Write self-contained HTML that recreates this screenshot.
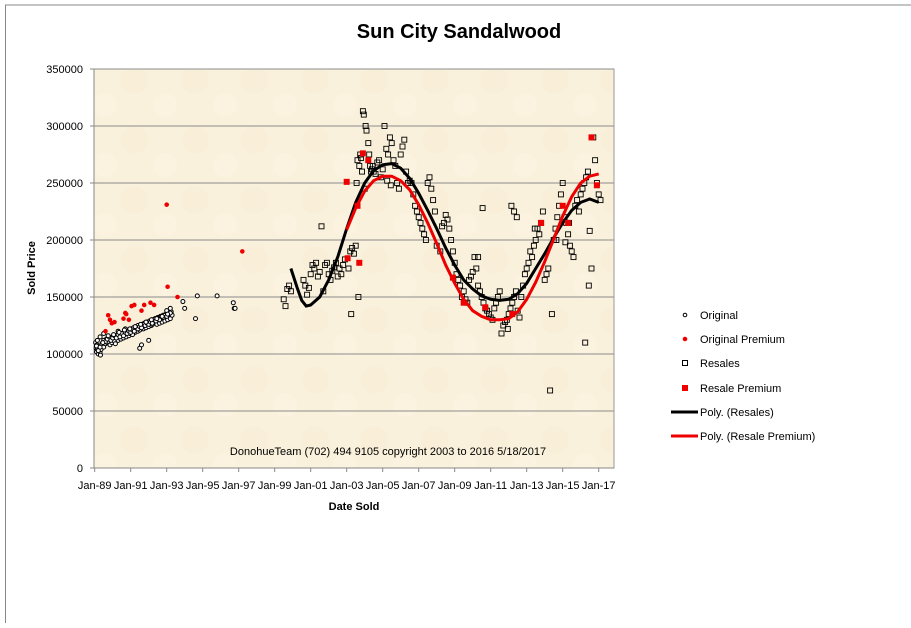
<!DOCTYPE html>
<html><head><meta charset="utf-8">
<style>
html,body{margin:0;padding:0;background:#fff;}
body{width:911px;height:623px;overflow:hidden;position:relative;font-family:"Liberation Sans","DejaVu Sans",sans-serif;}
svg text{font-family:"Liberation Sans","DejaVu Sans",sans-serif;}
</style></head>
<body>
<svg id="chart" width="911" height="623" xmlns="http://www.w3.org/2000/svg">
<defs>
<pattern id="parch" width="60" height="60" patternUnits="userSpaceOnUse">
<rect width="60" height="60" fill="#faf1dc"/>
<circle cx="15" cy="20" r="14" fill="#f8eed5" opacity="0.5"/>
<circle cx="45" cy="45" r="12" fill="#fbf4e2" opacity="0.5"/>
</pattern>
</defs>
<rect x="0" y="0" width="911" height="623" fill="#fff"/>
<line x1="5" y1="5" x2="911" y2="5" stroke="#888" stroke-width="1"/>
<line x1="5.5" y1="5" x2="5.5" y2="623" stroke="#888" stroke-width="1"/>
<text x="459" y="38" text-anchor="middle" font-size="20" font-weight="bold">Sun City Sandalwood</text>
<rect x="94" y="69" width="520" height="399" fill="url(#parch)" stroke="#999"/>
<g id="grid"></g><g id="axes"></g><g id="marks"></g>
<text x="388" y="455" text-anchor="middle" font-size="11">DonohueTeam (702) 494 9105 copyright 2003 to 2016  5/18/2017</text>
<text x="354" y="510" text-anchor="middle" font-size="11" font-weight="bold">Date Sold</text>
<text transform="translate(35,268) rotate(-90)" text-anchor="middle" font-size="11" font-weight="bold">Sold Price</text>
<g font-size="11">
<g><circle cx="685" cy="315" r="1.8" fill="#fff" stroke="#000"/><text x="700" y="319">Original</text></g>
<g><circle cx="685" cy="339" r="1.8" fill="#e00" stroke="#e00"/><text x="700" y="343">Original Premium</text></g>
<g><rect x="682.5" y="360.5" width="5" height="5" fill="#fff" stroke="#000"/><text x="700" y="367">Resales</text></g>
<g><rect x="682" y="385" width="6" height="6" fill="#e00"/><text x="700" y="392">Resale Premium</text></g>
<g><line x1="671" y1="412" x2="698" y2="412" stroke="#000" stroke-width="3"/><text x="700" y="416">Poly. (Resales)</text></g>
<g><line x1="671" y1="436" x2="698" y2="436" stroke="#e00" stroke-width="3"/><text x="700" y="440">Poly. (Resale Premium)</text></g>
</g>
</svg>
<script>
const yTicks=[0,50000,100000,150000,200000,250000,300000,350000];
const xTickLabels=["Jan-89","Jan-91","Jan-93","Jan-95","Jan-97","Jan-99","Jan-01","Jan-03","Jan-05","Jan-07","Jan-09","Jan-11","Jan-13","Jan-15","Jan-17"];
const xTickYears=[1989,1991,1993,1995,1997,1999,2001,2003,2005,2007,2009,2011,2013,2015,2017];
// Original sales (year, price in thousands)
const originalYears=[1989.05,1989.08,1989.1,1989.12,1989.15,1989.2,1989.22,1989.25,1989.3,1989.32,1989.35,1989.4,1989.45,1989.5,1989.55,1989.6,1989.65,1989.7,1989.75,1989.8,1989.85,1989.9,1989.95,1990.0,1990.05,1990.1,1990.15,1990.2,1990.25,1990.3,1990.35,1990.4,1990.45,1990.5,1990.55,1990.6,1990.65,1990.7,1990.75,1990.8,1990.85,1990.9,1990.95,1991.0,1991.05,1991.1,1991.15,1991.2,1991.25,1991.3,1991.35,1991.4,1991.45,1991.5,1991.55,1991.6,1991.65,1991.7,1991.75,1991.8,1991.85,1991.9,1991.95,1992.0,1992.05,1992.1,1992.15,1992.2,1992.25,1992.3,1992.35,1992.4,1992.45,1992.5,1992.55,1992.6,1992.65,1992.7,1992.75,1992.8,1992.85,1992.9,1992.95,1993.0,1993.05,1993.1,1993.15,1993.2,1993.25,1993.3,1989.3,1989.5,1989.9,1990.3,1990.7,1991.1,1991.4,1991.8,1992.2,1992.6,1993.0,1993.2,1991.5,1991.6,1992.0,1993.9,1994.0,1994.6,1994.7,1995.8,1996.7,1996.75,1996.8,
1989.1,1989.2,1989.3,1989.4,1989.5,1989.6,1989.7,1989.8,1989.9,1990.0,1990.1,1990.2,1990.3,1990.4,1990.5,1990.6,1990.7,1990.8,1990.9,1991.0,1991.1,1991.2,1991.3,1991.4,1991.5,1991.6,1991.7,1991.8,1991.9,1992.0,1992.1,1992.2,1992.3,1992.4,1992.5,1992.6,1992.7,1992.8,1992.9,1993.0,1993.1,1993.2,1989.15,1989.45,1989.75,1990.05,1990.35,1990.65,1990.95,1991.25,1991.55,1991.85,1992.15,1992.45,1992.75,1993.05];
const originalPrices=[110,105,102,108,104,100,106,103,101,99,104,108,110,106,112,109,113,110,111,114,108,112,110,115,113,111,109,116,114,112,117,115,113,118,116,114,120,117,115,119,121,116,118,122,120,118,123,121,119,124,122,120,125,121,123,126,124,122,127,125,123,128,126,124,129,127,125,130,127,129,131,128,126,132,129,127,133,130,128,134,131,129,135,132,130,136,133,131,137,134,115,118,114,120,122,117,125,127,126,130,138,140,105,108,112,146,140,131,151,151,145,140,140,
107,103,106,109,112,111,113,115,112,114,116,114,117,115,118,116,119,118,120,119,121,120,123,122,124,123,126,125,127,126,128,127,130,129,131,130,133,132,134,133,135,136,112,110,116,117,119,121,122,124,126,128,130,131,133,135];
const origPremYears=[1989.6,1989.75,1989.85,1989.95,1990.1,1990.6,1990.7,1990.75,1990.9,1991.05,1991.2,1991.6,1991.75,1992.1,1992.3,1993.0,1993.05,1993.6,1997.2];
const origPremPrices=[120,134,130,127,128,131,136,135,130,142,143,138,143,145,143,231,159,150,190];
// Resales
const resaleYears=[1999.5,1999.6,1999.7,1999.8,1999.9,2000.6,2000.7,2000.8,2000.9,2001.0,2001.1,2001.2,2001.3,2001.4,2001.5,2001.6,2001.7,2001.8,2001.9,2002.0,2002.1,2002.2,2002.3,2002.4,2002.5,2002.6,2002.7,2002.8,2002.9,2003.1,2003.2,2003.3,2003.4,2003.5,2003.55,2003.6,2003.7,2003.75,2003.8,2003.85,2003.9,2003.95,2004.0,2004.05,2004.1,2004.2,2004.25,2004.3,2004.35,2004.4,2004.45,2004.5,2004.6,2004.7,2004.8,2004.9,2005.0,2005.1,2005.2,2005.3,2005.4,2005.5,2005.6,2005.7,2005.8,2005.9,2006.0,2006.1,2006.2,2006.3,2006.4,2006.5,2006.6,2006.7,2006.8,2006.9,2007.0,2007.1,2007.2,2007.3,2007.4,2007.5,2007.6,2007.7,2007.8,2007.9,2008.0,2008.2,2008.4,2008.6,2008.7,2008.8,2008.9,2009.0,2009.1,2009.2,2009.3,2009.4,2009.5,2009.6,2009.7,2009.8,2009.9,2010.0,2010.1,2010.2,2010.3,2010.4,2010.5,2010.6,2010.7,2010.8,2010.9,2011.0,2011.1,2011.2,2011.3,2011.4,2011.5,2011.6,2011.7,2011.8,2011.9,2012.0,2012.1,2012.2,2012.3,2012.4,2012.5,2012.6,2012.7,2012.8,2012.9,2013.0,2013.1,2013.2,2013.3,2013.4,2013.5,2013.6,2013.7,2013.8,2013.9,2014.0,2014.1,2014.2,2014.3,2014.4,2014.5,2014.6,2014.7,2014.8,2014.9,2015.0,2015.1,2015.2,2015.3,2015.4,2015.5,2015.6,2015.7,2015.8,2015.9,2016.0,2016.1,2016.2,2016.3,2016.4,2016.5,2016.6,2016.7,2016.8,2016.9,2017.0,2017.1,2012.15,2012.3,2012.45,2013.45,2014.65,2015.15,2015.35,2016.25,2016.45,2011.95,2010.3,2010.55,2008.3,2008.5,2005.45,2005.25,2003.65,2003.25];
const resalePrices=[148,142,157,160,155,165,160,152,158,170,178,175,180,168,172,212,155,178,180,170,165,173,176,180,168,175,170,178,183,175,190,193,188,195,250,270,265,275,272,260,313,310,245,300,296,285,275,265,260,262,265,260,258,268,270,255,262,300,280,275,290,285,270,265,250,245,275,282,288,260,250,252,250,240,230,225,220,215,210,205,200,250,255,245,235,225,195,190,215,218,210,200,190,180,170,165,160,150,155,148,145,165,168,172,185,175,160,155,150,145,140,138,135,132,130,140,145,150,155,118,125,128,130,135,140,145,150,155,138,132,150,160,170,175,180,190,185,195,200,210,205,215,225,165,170,175,68,135,200,210,220,230,240,250,220,215,205,195,190,185,230,235,225,240,245,250,255,260,208,175,290,270,250,240,235,230,225,220,210,200,198,215,110,160,122,185,228,212,222,248,252,150,135,142,225,210,271,262,180,172];
const resPremYears=[2003.0,2003.05,2003.7,2003.6,2003.9,2004.2,2008.9,2009.5,2010.7,2012.2,2013.8,2015.0,2015.3,2016.6,2016.9];
const resPremPrices=[251,184,180,230,276,270,167,145,141,135,215,230,215,290,248];
// Polynomial trend lines (sampled values, thousands)
const polyResYears=[1999.9,2000.25,2000.5,2000.75,2001,2001.5,2002,2002.5,2003,2003.5,2004,2004.5,2005,2005.5,2006,2006.5,2007,2007.5,2008,2008.5,2009,2009.5,2010,2010.5,2011,2011.5,2012,2012.5,2013,2013.5,2014,2014.5,2015,2015.5,2016,2016.5,2017];
const polyResPrices=[175,158,147,142,143,150,165,185,210,233,250,261,266,267,263,254,241,226,210,193,178,165,157,151,148,147,148,153,162,175,188,202,215,226,233,236,233];
const polyPremYears=[2003,2003.5,2004,2004.5,2005,2005.5,2006,2006.5,2007,2007.5,2008,2008.5,2009,2009.5,2010,2010.5,2011,2011.5,2012,2012.5,2013,2013.5,2014,2014.5,2015,2015.5,2016,2016.5,2017];
const polyPremPrices=[209,228,243,252,256,256,252,244,231,215,197,178,162,148,138,133,130,130,131,137,148,163,181,201,221,238,250,256,258];

const NS="http://www.w3.org/2000/svg";
const X0=94.7, PXY=18, Y0=468, YS=399/350000;
function xs(yr){return X0+(yr-1989)*PXY;}
function ys(v){return Y0-v*YS;}
function mk(tag,attrs,parent){const e=document.createElementNS(NS,tag);for(const k in attrs)e.setAttribute(k,attrs[k]);parent.appendChild(e);return e;}
const grid=document.getElementById('grid'),axes=document.getElementById('axes'),marks=document.getElementById('marks');
yTicks.forEach(v=>{
  if(v>0){const g=mk('line',{x1:94,x2:614,y1:ys(v),y2:ys(v),stroke:'#8c8c8c','stroke-width':1},grid);
  
  }
  const t=mk('text',{x:83,y:ys(v)+4,'text-anchor':'end','font-size':11},axes);t.textContent=v;
  
  
  mk('line',{x1:90,x2:94,y1:ys(v),y2:ys(v),stroke:'#888'},axes);
});
mk('line',{x1:94,x2:94,y1:69,y2:468,stroke:'#888'},axes);
mk('line',{x1:94,x2:614,y1:468,y2:468,stroke:'#888'},axes);
xTickYears.forEach((yr,i)=>{
  mk('line',{x1:xs(yr),x2:xs(yr),y1:468,y2:472,stroke:'#888'},axes);
  const t=mk('text',{x:xs(yr),y:489,'text-anchor':'middle','font-size':11},axes);t.textContent=xTickLabels[i];
  
  
});
function pathOf(xa,va){return xa.map((y,i)=>(i?'L':'M')+xs(y).toFixed(1)+','+ys(va[i]*1000).toFixed(1)).join(' ');}
originalYears.forEach((yr,i)=>{
  if(originalPrices[i]===undefined)return;
  const c=mk('circle',{cx:xs(yr),cy:ys(originalPrices[i]*1000),r:2,fill:'#fff',stroke:'#000','stroke-width':1},marks);
  
  
});
origPremYears.forEach((yr,i)=>{
  const c=mk('circle',{cx:xs(yr),cy:ys(origPremPrices[i]*1000),r:1.8,fill:'#e00',stroke:'#e00'},marks);
  
  
});
resaleYears.forEach((yr,i)=>{
  if(resalePrices[i]===undefined)return;
  const r=mk('rect',{x:xs(yr)-2.5,y:ys(resalePrices[i]*1000)-2.5,width:5,height:5,fill:'none',stroke:'#000','stroke-width':0.9},marks);
  
  
});
const p1=mk('path',{d:pathOf(polyResYears,polyResPrices),fill:'none',stroke:'#000','stroke-width':3},marks);


const p2=mk('path',{d:pathOf(polyPremYears,polyPremPrices),fill:'none',stroke:'#e00','stroke-width':3},marks);


resPremYears.forEach((yr,i)=>{
  const r=mk('rect',{x:xs(yr)-3,y:ys(resPremPrices[i]*1000)-3,width:6,height:6,fill:'#e00'},marks);
  
  
});
</script>
</body></html>
